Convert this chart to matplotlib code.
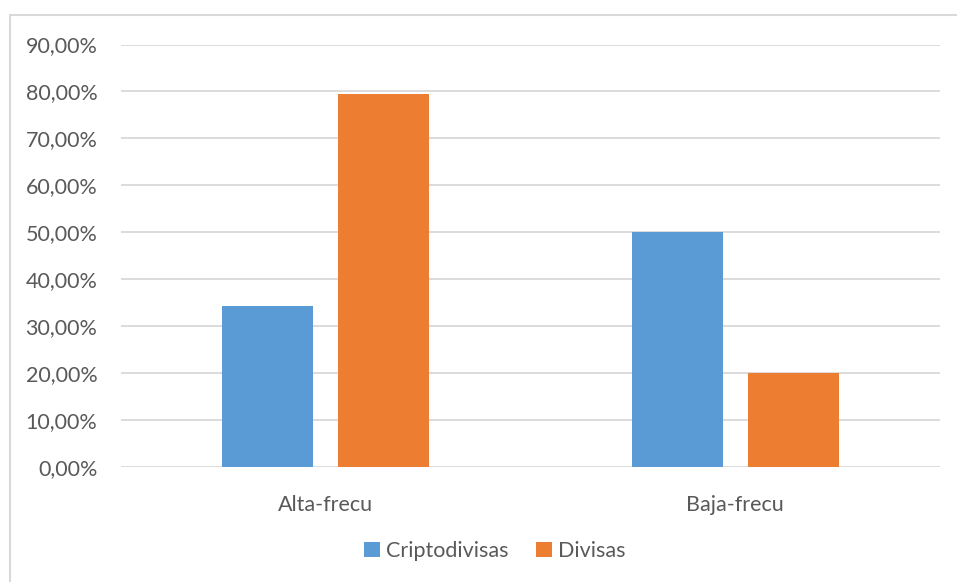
import matplotlib
matplotlib.use('Agg')
import matplotlib.pyplot as plt
from matplotlib.patches import Rectangle
from matplotlib.ticker import FuncFormatter
import numpy as np

categories = ['Alta-frecu', 'Baja-frecu']
criptodivisas = [0.343, 0.50]
divisas = [0.795, 0.20]
series_names = ['Criptodivisas', 'Divisas']

plt.rcParams['font.family'] = ['Lato', 'DejaVu Sans']
text_color = '#595959'
grid_color = '#d9d9d9'

fig = plt.figure(figsize=(9.57, 5.82), dpi=100)
W, H = 957, 582
ax = fig.add_axes([121 / W, 1 - 467 / H, 819 / W, 422.5 / H])

x = np.arange(len(categories))
width = 0.222
offset = (width + 0.061) / 2
ax.bar(x - offset, criptodivisas, width, color='#5B9BD5', label=series_names[0], zorder=3)
ax.bar(x + offset, divisas, width, color='#ED7D31', label=series_names[1], zorder=3)

ax.set_xlim(-0.5, 1.5)
ax.set_ylim(0, 0.9)
ax.set_yticks(np.arange(0, 0.91, 0.1))
ax.yaxis.set_major_formatter(FuncFormatter(lambda v, p: f'{v * 100:.2f}%'.replace('.', ',')))
ax.set_xticks(x)
ax.set_xticklabels(categories)
ax.tick_params(axis='both', length=0, labelsize=15.5, colors=text_color)
ax.tick_params(axis='y', pad=17)
ax.tick_params(axis='x', pad=20)
ax.grid(axis='y', color=grid_color, linewidth=1.3, zorder=0)
for s in ax.spines.values():
    s.set_visible(False)

leg = fig.legend(loc='center', bbox_to_anchor=(495 / W, 1 - 551 / H), ncol=2, frameon=False,
                 fontsize=15.5, handlelength=0.7, handleheight=0.7, handletextpad=0.3,
                 columnspacing=1.3, labelcolor=text_color)

# outer chart frame
fig.patches.append(Rectangle((10 / W, -0.1), 1.2, 1 - 15 / H + 0.1, transform=fig.transFigure,
                             fill=False, edgecolor=grid_color, linewidth=1.5))

fig.savefig('out.png', dpi=100)
